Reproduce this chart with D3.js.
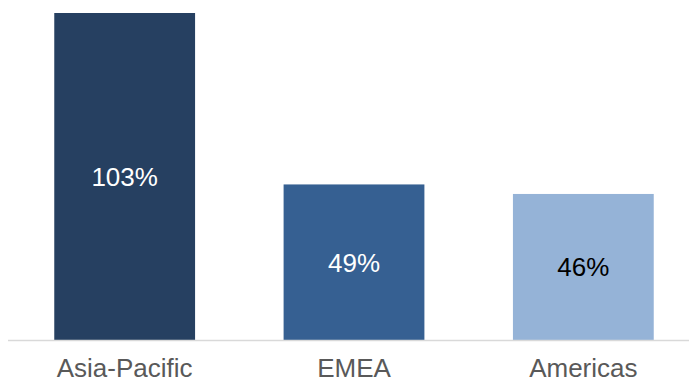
<!DOCTYPE html>
<html>
<head>
<meta charset="utf-8">
<script src="https://cdn.jsdelivr.net/npm/d3@7"></script>
<style>
  body { margin: 0; background: #fff; }
  text { font-family: "Liberation Sans", Arial, sans-serif; }
</style>
</head>
<body>
<svg width="689" height="383"></svg>
<script>
// data
const regions = ["Asia-Pacific", "EMEA", "Americas"];
const growth = [103, 49, 46];
const barColors = ["#264061", "#366092", "#95B3D7"];
const labelColors = ["#ffffff", "#ffffff", "#000000"];

const svg = d3.select("svg");
const baseY = 340;

const x = d3.scaleBand()
  .domain(regions)
  .range([10, 698])
  .paddingInner(0.386)
  .paddingOuter(0.193);

const y = d3.scaleLinear()
  .domain([0, 103])
  .range([baseY, 13]);

// bars
svg.selectAll("rect.bar")
  .data(regions)
  .enter()
  .append("rect")
  .attr("class", "bar")
  .attr("x", d => x(d))
  .attr("width", x.bandwidth())
  .attr("y", (d, i) => y(growth[i]))
  .attr("height", (d, i) => baseY - y(growth[i]))
  .attr("fill", (d, i) => barColors[i]);

// baseline
svg.append("line")
  .attr("x1", 8).attr("x2", 689)
  .attr("y1", baseY + 0.5).attr("y2", baseY + 0.5)
  .attr("stroke", "#d9d9d9")
  .attr("stroke-width", 1.5);

// value labels
svg.selectAll("text.value")
  .data(regions)
  .enter()
  .append("text")
  .attr("class", "value")
  .attr("x", d => x(d) + x.bandwidth() / 2)
  .attr("y", (d, i) => (y(growth[i]) + baseY) / 2 + 9.5)
  .attr("text-anchor", "middle")
  .attr("font-size", 26)
  .attr("fill", (d, i) => labelColors[i])
  .text((d, i) => growth[i] + "%");

// category labels (kept just inside the bottom edge)
svg.selectAll("text.cat")
  .data(regions)
  .enter()
  .append("text")
  .attr("class", "cat")
  .attr("x", d => x(d) + x.bandwidth() / 2)
  .attr("y", 377)
  .attr("text-anchor", "middle")
  .attr("font-size", 26)
  .attr("fill", "#595959")
  .text(d => d);
</script>
</body>
</html>
